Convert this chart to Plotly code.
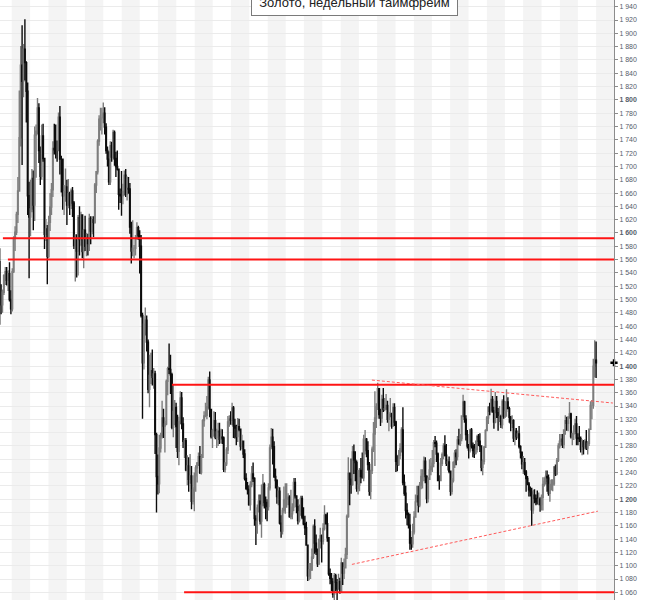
import pandas as pd
import plotly.graph_objects as go

title_text = "Золото, недельный таймфрейм"
first_week = "2011-05-02"
first_open = 1557

close_2011 = [1492,1492,1511,1536,1542,1529,1539,1500,1486,1542,1592,1601,1628,1663,1743,1852,1828,1876,1856,1813,
              1656,1624,1636,1682,1642,1747,1753,1788,1724,1685,1746,1712,1598,1606,1565]
high_2011 = [1577,1523,1515,1538,1549,1549,1544,1556,1514,1547,1595,1610,1632,1684,1814,1881,1912,1884,1921,1858,
             1826,1677,1680,1696,1694,1760,1763,1803,1795,1730,1763,1764,1713,1621,1612]
low_2011 = [1462,1478,1480,1507,1522,1521,1513,1497,1478,1482,1540,1573,1597,1615,1662,1730,1702,1804,1829,1766,
            1627,1532,1595,1631,1604,1618,1683,1748,1705,1672,1680,1707,1576,1588,1523]

close_2012 = [1616,1639,1665,1727,1725,1725,1725,1774,1711,1711,1656,1662,1669,1642,1659,1642,1663,1645,1581,1591,
              1573,1623,1590,1627,1572,1604,1580,1593,1584,1622,1603,1620,1616,1672,1692,1738,1771,1773,1773,1780,
              1759,1724,1711,1677,1731,1714,1751,1712,1700,1696,1658,1656,1656]
high_2012 = [1626,1660,1675,1738,1764,1763,1739,1781,1791,1716,1712,1672,1697,1680,1681,1662,1667,1669,1648,1598,
             1598,1627,1640,1632,1628,1606,1626,1600,1599,1629,1625,1625,1625,1675,1693,1741,1777,1788,1788,1796,
             1789,1765,1730,1723,1738,1737,1755,1754,1722,1724,1697,1667,1693]
low_2012 = [1562,1603,1627,1654,1718,1712,1707,1723,1688,1661,1635,1627,1647,1612,1637,1627,1636,1624,1576,1527,
            1533,1536,1566,1581,1562,1547,1573,1565,1566,1573,1583,1598,1594,1614,1660,1688,1731,1754,1748,1765,
            1748,1719,1700,1672,1672,1707,1710,1701,1684,1694,1635,1645,1626]

close_2013 = [1662,1687,1658,1667,1666,1609,1573,1577,1577,1592,1608,1596,1580,1476,1405,1463,1469,1436,1365,1386,
              1393,1383,1388,1297,1234,1223,1277,1295,1322,1310,1313,1377,1396,1395,1387,1308,1332,1338,1309,1272,
              1316,1352,1313,1287,1288,1244,1250,1230,1235,1197,1214,1235]
high_2013 = [1674,1694,1696,1685,1684,1675,1617,1619,1582,1597,1616,1611,1604,1597,1480,1475,1488,1476,1440,1417,
             1420,1425,1397,1393,1300,1267,1297,1300,1348,1336,1318,1380,1399,1434,1417,1390,1372,1349,1345,1327,
             1324,1362,1361,1323,1292,1292,1266,1263,1268,1250,1218,1240]
low_2013 = [1643,1656,1654,1649,1659,1599,1554,1565,1562,1566,1590,1590,1539,1473,1321,1395,1446,1422,1359,1338,
            1373,1371,1366,1268,1180,1207,1209,1270,1291,1292,1270,1311,1356,1388,1358,1305,1293,1311,1277,1262,
            1251,1313,1305,1277,1262,1242,1221,1211,1223,1185,1192,1182]

close_2014 = [1247,1254,1264,1240,1263,1318,1325,1326,1339,1379,1335,1294,1303,1318,1293,1301,1302,1290,1293,1292,
              1245,1253,1274,1316,1320,1319,1337,1310,1307,1294,1309,1305,1280,1287,1268,1231,1216,1214,1192,1222,
              1238,1231,1171,1169,1187,1197,1167,1191,1222,1195,1195,1189]
high_2014 = [1251,1256,1270,1280,1268,1320,1332,1345,1355,1384,1392,1336,1306,1332,1331,1306,1315,1315,1306,1305,
             1294,1256,1278,1325,1326,1332,1345,1340,1321,1312,1322,1321,1306,1297,1288,1275,1239,1226,1221,1227,
             1250,1255,1233,1176,1192,1207,1207,1222,1238,1225,1204,1200]
low_2014 = [1211,1225,1250,1238,1237,1262,1309,1323,1320,1336,1323,1291,1277,1294,1290,1277,1280,1283,1284,1283,
            1241,1240,1250,1268,1309,1312,1311,1292,1291,1281,1286,1302,1273,1275,1262,1228,1214,1207,1190,1183,
            1218,1226,1160,1131,1148,1180,1162,1142,1189,1186,1170,1167]

close_2015 = [1217,1277,1293,1279,1234,1228,1204,1212,1164,1152,1183,1199,1200,1203,1203,1174,1178,1188,1225,1205,
              1189,1168,1181,1201,1173,1163,1157,1131,1085,1094,1094,1113,1159,1134,1121,1103,1139,1145,1137,1156,
              1176,1163,1142,1088,1081,1076,1057,1085,1075,1065,1076,1061]
high_2015 = [1224,1282,1307,1306,1287,1246,1230,1219,1218,1176,1187,1219,1224,1224,1209,1206,1214,1194,1232,1232,
             1206,1200,1192,1205,1205,1188,1175,1166,1132,1104,1104,1126,1162,1170,1147,1126,1141,1157,1147,1164,
             1191,1178,1180,1142,1096,1089,1081,1089,1088,1080,1088,1082]
low_2015 = [1183,1213,1275,1252,1232,1216,1193,1191,1162,1142,1147,1179,1178,1187,1191,1172,1170,1170,1182,1201,
            1179,1162,1165,1175,1170,1161,1146,1131,1077,1078,1080,1092,1110,1118,1116,1098,1101,1126,1105,1132,
            1153,1162,1136,1085,1072,1062,1052,1046,1062,1046,1064,1058]

close_2016 = [1104,1089,1097,1117,1174,1239,1230,1222,1271,1259,1255,1216,1221,1243,1234,1232,1290,1290,1273,1252,
              1212,1243,1275,1298,1322,1339,1366,1327,1322,1350,1335,1336,1341,1320,1327,1328,1310,1338,1316,1257,
              1252,1266,1276,1304,1225,1209,1183,1177,1161,1134,1133,1151]
high_2016 = [1112,1105,1111,1127,1177,1263,1240,1261,1280,1282,1272,1258,1244,1247,1262,1270,1297,1304,1292,1287,
             1256,1244,1279,1316,1362,1344,1375,1367,1336,1357,1367,1352,1358,1348,1331,1352,1330,1344,1344,1318,
             1266,1274,1284,1308,1338,1237,1220,1194,1180,1178,1143,1163]
low_2016 = [1061,1071,1080,1096,1110,1172,1191,1208,1220,1238,1227,1211,1207,1212,1224,1231,1227,1267,1263,1243,
            1205,1200,1238,1271,1250,1307,1334,1321,1310,1315,1331,1332,1334,1315,1302,1323,1306,1310,1310,1241,
            1242,1250,1260,1270,1221,1205,1171,1161,1156,1124,1124,1127]

close_2017 = [1173,1196,1205,1191,1221,1234,1238,1257,1234,1201,1230,1244,1249,1254,1285,1284,1268,1228,1228,1254,
              1267,1280,1266,1254,1256,1242,1212,1228,1255,1269,1264,1289,1284,1291,1325,1346,1320,1297,1280,1274,
              1304,1280,1273,1269,1275,1294,1287,1280,1248,1257,1278,1303]
high_2017 = [1182,1207,1220,1220,1226,1245,1245,1264,1263,1236,1233,1260,1262,1274,1289,1295,1288,1270,1236,1262,
             1270,1284,1296,1283,1260,1264,1243,1232,1257,1274,1275,1295,1306,1298,1326,1357,1348,1326,1304,1283,
             1306,1307,1285,1283,1288,1297,1298,1299,1280,1260,1280,1305]
low_2017 = [1147,1172,1195,1180,1188,1215,1216,1227,1224,1194,1195,1229,1236,1241,1248,1278,1256,1227,1214,1227,
            1250,1260,1264,1250,1243,1239,1205,1207,1225,1247,1251,1258,1281,1280,1287,1323,1315,1288,1276,1261,
            1270,1276,1263,1262,1267,1270,1280,1271,1242,1236,1252,1277]

close_2018 = [1322,1338,1332,1350,1333,1316,1347,1330,1323,1324,1312,1347,1325,1332,1346,1336,1323,1314,1318,1292,
              1302,1294,1298,1279,1270,1253,1255,1241,1231,1223,1214,1211,1184,1206,1201,1196,1193,1200,1192,1203,
              1222,1227,1234,1232,1209,1222,1222,1223,1248,1238,1258,1280,1287]
high_2018 = [1325,1340,1345,1366,1355,1339,1361,1355,1337,1340,1327,1350,1356,1347,1365,1353,1339,1325,1326,1320,
             1307,1307,1303,1310,1281,1272,1265,1262,1244,1235,1226,1219,1217,1214,1215,1207,1213,1210,1203,1207,
             1233,1233,1243,1243,1237,1229,1230,1230,1250,1252,1262,1284,1298]
low_2018 = [1302,1313,1326,1330,1330,1306,1314,1322,1303,1316,1307,1306,1321,1322,1324,1335,1315,1302,1307,1286,
            1281,1289,1291,1276,1261,1245,1238,1236,1211,1221,1204,1204,1160,1178,1194,1191,1192,1191,1181,1183,
            1183,1219,1222,1211,1205,1196,1213,1212,1220,1235,1236,1256,1276]

close_2019 = [1290,1282,1304,1318,1314,1322,1328,1294,1298,1302,1313,1292,1291,1291,1275,1286,1279,1286,1277,1284,
              1305,1341,1341,1400,1409,1405]
high_2019 = [1298,1298,1305,1326,1324,1325,1346,1330,1300,1311,1321,1325,1299,1310,1294,1290,1289,1290,1304,1287,
             1306,1347,1349,1411,1439,1437]
low_2019 = [1280,1277,1276,1297,1303,1302,1321,1291,1281,1289,1298,1281,1281,1286,1270,1266,1267,1275,1274,1267,
            1280,1305,1320,1336,1383,1382]

# horizontal levels (red) and their start dates
level_values = [1592, 1560, 1372, 1060]
level_starts = ["2011-05-18", "2011-06-12", "2013-09-09", "2013-11-09"]
# dashed trend lines
upper_trend_x = ["2016-06-05", "2019-09-23"]
upper_trend_y = [1379, 1344.5]
lower_trend_x = ["2016-02-26", "2019-07-10"]
lower_trend_y = [1102, 1182]

closes = (close_2011 + close_2012 + close_2013 + close_2014 + close_2015 +
          close_2016 + close_2017 + close_2018 + close_2019)
highs = (high_2011 + high_2012 + high_2013 + high_2014 + high_2015 +
         high_2016 + high_2017 + high_2018 + high_2019)
lows = (low_2011 + low_2012 + low_2013 + low_2014 + low_2015 +
        low_2016 + low_2017 + low_2018 + low_2019)
opens = [first_open] + closes[:-1]
weeks = pd.date_range(first_week, periods=len(closes), freq="7D")

x0 = pd.Timestamp("2011-05-03 12:00")
x1 = x0 + pd.Timedelta(days=3070)
y_range = [1048.5, 1950.1]

fig = go.Figure()
fig.add_trace(go.Candlestick(
    x=weeks, open=opens, high=highs, low=lows, close=closes,
    increasing=dict(line=dict(color="#7d7d7d", width=1.4), fillcolor="#7d7d7d"),
    decreasing=dict(line=dict(color="#0c0c0c", width=1.4), fillcolor="#0c0c0c"),
    whiskerwidth=0, showlegend=False, hoverinfo="skip"))

for v, s in zip(level_values, level_starts):
    fig.add_trace(go.Scatter(x=[pd.Timestamp(s), x1], y=[v, v], mode="lines",
                             line=dict(color="#ff1414", width=2), showlegend=False, hoverinfo="skip"))

fig.add_trace(go.Scatter(x=pd.to_datetime(upper_trend_x), y=upper_trend_y, mode="lines",
                         line=dict(color="#ff5a5a", width=1, dash="3px,2px"), showlegend=False, hoverinfo="skip"))
fig.add_trace(go.Scatter(x=pd.to_datetime(lower_trend_x), y=lower_trend_y, mode="lines",
                         line=dict(color="#ff5a5a", width=1, dash="3px,2px"), showlegend=False, hoverinfo="skip"))

fig.add_trace(go.Scatter(x=[x1], y=[closes[-1]], mode="markers", cliponaxis=False,
                         marker=dict(symbol="cross", size=6, color="#000000", line=dict(width=0)),
                         showlegend=False, hoverinfo="skip"))

# alternating quarter bands
shapes = []
for qs in pd.date_range("2011-01-01", "2019-12-31", freq="QS"):
    if qs.month in (1, 7):
        qe = qs + pd.offsets.QuarterBegin(startingMonth=1)
        shapes.append(dict(type="rect", xref="x", yref="paper", x0=qs, x1=qe, y0=0, y1=1,
                           fillcolor="#f4f4f4", line=dict(width=0), layer="below"))

tick_vals = list(range(1060, 1941, 20))
tick_text = []
for t in tick_vals:
    s = f"{t // 1000} {t % 1000:03d}"
    tick_text.append(f"<b>{s}</b>" if t % 200 == 0 else s)

fig.update_layout(
    width=650, height=600,
    margin=dict(l=0, r=36, t=0, b=0),
    paper_bgcolor="white", plot_bgcolor="white",
    shapes=shapes,
    showlegend=False,
    xaxis=dict(type="date", range=[x0, x1], showgrid=False, showticklabels=False,
               zeroline=False, showline=False, ticks="", rangeslider=dict(visible=False), fixedrange=True),
    yaxis=dict(side="right", range=y_range, tickvals=tick_vals, ticktext=tick_text,
               showgrid=True, gridcolor="#ebebeb", gridwidth=1, zeroline=False,
               showline=True, linecolor="#8c8c8c", linewidth=1,
               ticks="outside", ticklen=3, tickcolor="#8c8c8c",
               tickfont=dict(family="Liberation Sans", size=7, color="#555d6a"), fixedrange=True),
    annotations=[dict(text=title_text, xref="paper", yref="paper", x=354.5 / 614, y=1 - 16 / 600,
                      xanchor="center", yanchor="bottom", showarrow=False,
                      font=dict(family="Liberation Sans", size=13, color="#222222"),
                      bgcolor="white", bordercolor="#7a7a7a", borderwidth=1, borderpad=5, width=195)],
)

fig.write_html("out.html", config={"displayModeBar": False},
               post_script="document.body.style.margin='0px';document.body.style.overflow='hidden';")
